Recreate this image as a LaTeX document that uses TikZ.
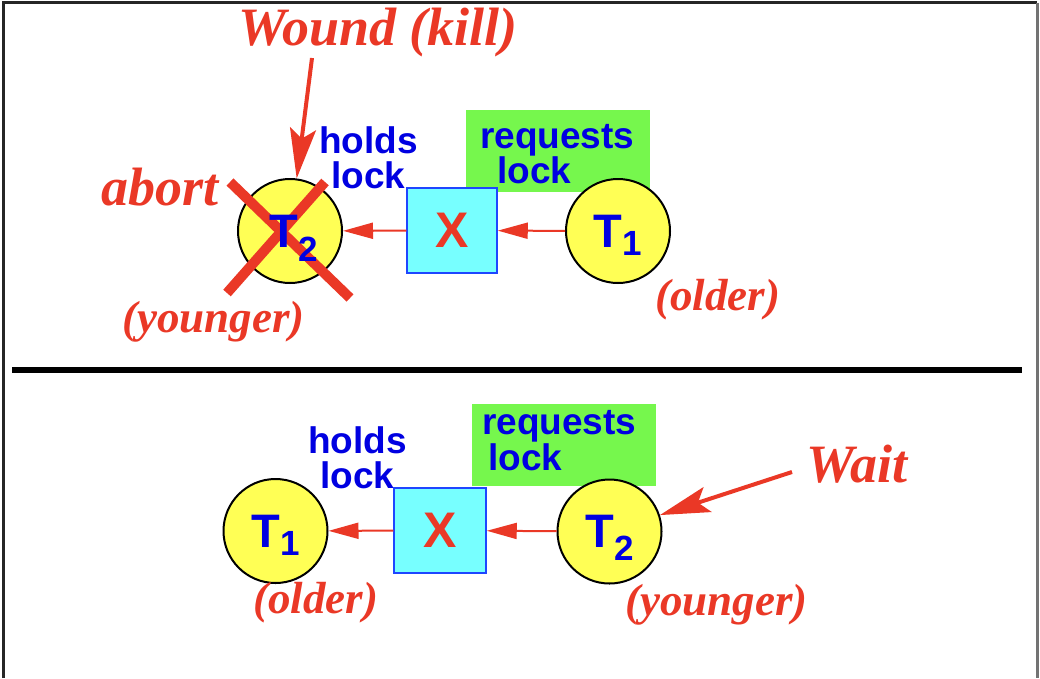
\documentclass[tikz,border=0pt]{standalone}
\usepackage{fontspec}
\setmainfont{Liberation Serif}
\setsansfont{Liberation Sans}
\usetikzlibrary{arrows.meta,positioning}

\definecolor{wred}{RGB}{234,56,38}
\definecolor{wblue}{RGB}{0,0,225}
\definecolor{wboxblue}{RGB}{30,70,255}
\definecolor{wyellow}{RGB}{255,255,85}
\definecolor{wcyan}{RGB}{119,255,255}
\definecolor{wgreen}{RGB}{118,247,77}

% transaction label: T with a lowered index
\newcommand{\tname}[2]{{\fontsize{47}{47}\selectfont T}\smash{\raisebox{-#2}{\fontsize{35}{35}\selectfont #1}}}

\tikzset{
  txn/.style={circle, draw=black, line width=2pt, fill=wyellow, minimum size=104pt, inner sep=0pt, text=wblue, font=\sffamily\bfseries},
  txnlab/.style={inner sep=0pt, text=wblue, font=\sffamily\bfseries},
  lockbox/.style={draw=wboxblue, line width=1.5pt, fill=wcyan, minimum width=90pt, minimum height=85pt, inner sep=0pt, text=wred, font=\sffamily\bfseries\fontsize{50}{50}\selectfont},
  reqbox/.style={fill=wgreen, minimum width=184pt, minimum height=82pt, inner sep=0pt},
  bluelab/.style={text=wblue, font=\sffamily\bfseries\fontsize{37}{35}\selectfont, inner sep=0pt, anchor=base west},
  redlab/.style={text=wred, font=\rmfamily\bfseries\itshape\fontsize{45}{45}\selectfont, inner sep=0pt, anchor=base west},
  biglab/.style={redlab, font=\rmfamily\bfseries\itshape\fontsize{54}{54}\selectfont},
  lockarrow/.style={draw=wred, line width=2pt, -{Triangle[length=30pt,width=16pt]}},
  callout/.style={draw=wred, line width=4pt, -{Stealth[length=50pt,width=26pt,inset=10pt]}},
  killline/.style={draw=wred, line width=10pt},
}

\begin{document}
\begin{tikzpicture}[x=1pt,y=-1pt]
    \useasboundingbox (0,0) rectangle (1040,678);

    % Frame
    \draw[line width=3pt, black!85] (3.5,678) -- (3.5,2.5) -- (1037,2.5);
    \draw[line width=3pt, black!55] (1037.5,2.5) -- (1037.5,678);

    % Wound-wait: older requests lock held by younger
    \node[reqbox] (reqtop) at (558,151) {};
    \node[bluelab, align=left] (reqtoptxt) at (480,183) {requests\\\kern17pt lock};
    \node[bluelab, align=center] (holdtop) at (319,188) {holds\\lock};

    \node[txn] (t2top) at (290,231) {};
    \node[lockbox] (xtop) at (452,230.5) {X};
    \node[txn] (t1top) at (618,231) {\tname{1}{8pt}};

    \draw[lockarrow] (xtop) -- (t2top);
    \draw[lockarrow] (t1top) -- (xtop);

    \node[biglab] (wound) at (238,45) {Wound (kill)};
    \coordinate (woundtail) at (312,58);
    \draw[callout] (woundtail) -- (t2top);

    \node[biglab] (abort) at (101,205) {abort};
    \draw[killline] ([shift={(-60,-49)}]t2top.center) -- ([shift={(60,67)}]t2top.center);
    \draw[killline] ([shift={(35,-49)}]t2top.center) -- ([shift={(-63,62)}]t2top.center);
    \node[txnlab] (t2toplab) at ([xshift=4pt]t2top.center) {\tname{2}{14pt}};

    \node[redlab] (youngtop) at (122,332) {(younger)};
    \node[redlab] (oldtop) at (655,310) {(older)};

    % Separator
    \draw[line width=6pt] (12,370) -- (1022,370);

    % Wound-wait: younger requests lock held by older
    \node[reqbox] (reqbot) at (564,444.5) {};
    \node[bluelab, align=left, font=\sffamily\bfseries\fontsize{37}{29}\selectfont] (reqbottxt) at (482,470) {requests\\\kern6pt lock};
    \node[bluelab, align=center] (holdbot) at (308,488) {holds\\lock};

    \node[txn] (t1bot) at (275.5,531) {\tname{1}{8pt}};
    \node[lockbox, minimum width=92pt] (xbot) at (440,530.5) {X};
    \node[txn] (t2bot) at (609.5,531.5) {\tname{2}{13pt}};

    \draw[lockarrow] (xbot) -- (t1bot);
    \draw[lockarrow] (t2bot) -- (xbot);

    \node[biglab] (wait) at (806,482) {Wait};
    \coordinate (waittail) at (792,472);
    \draw[callout] (waittail) -- (t2bot);

    \node[redlab] (oldbot) at (253,613) {(older)};
    \node[redlab] (youngbot) at (625,615) {(younger)};
\end{tikzpicture}
\end{document}
